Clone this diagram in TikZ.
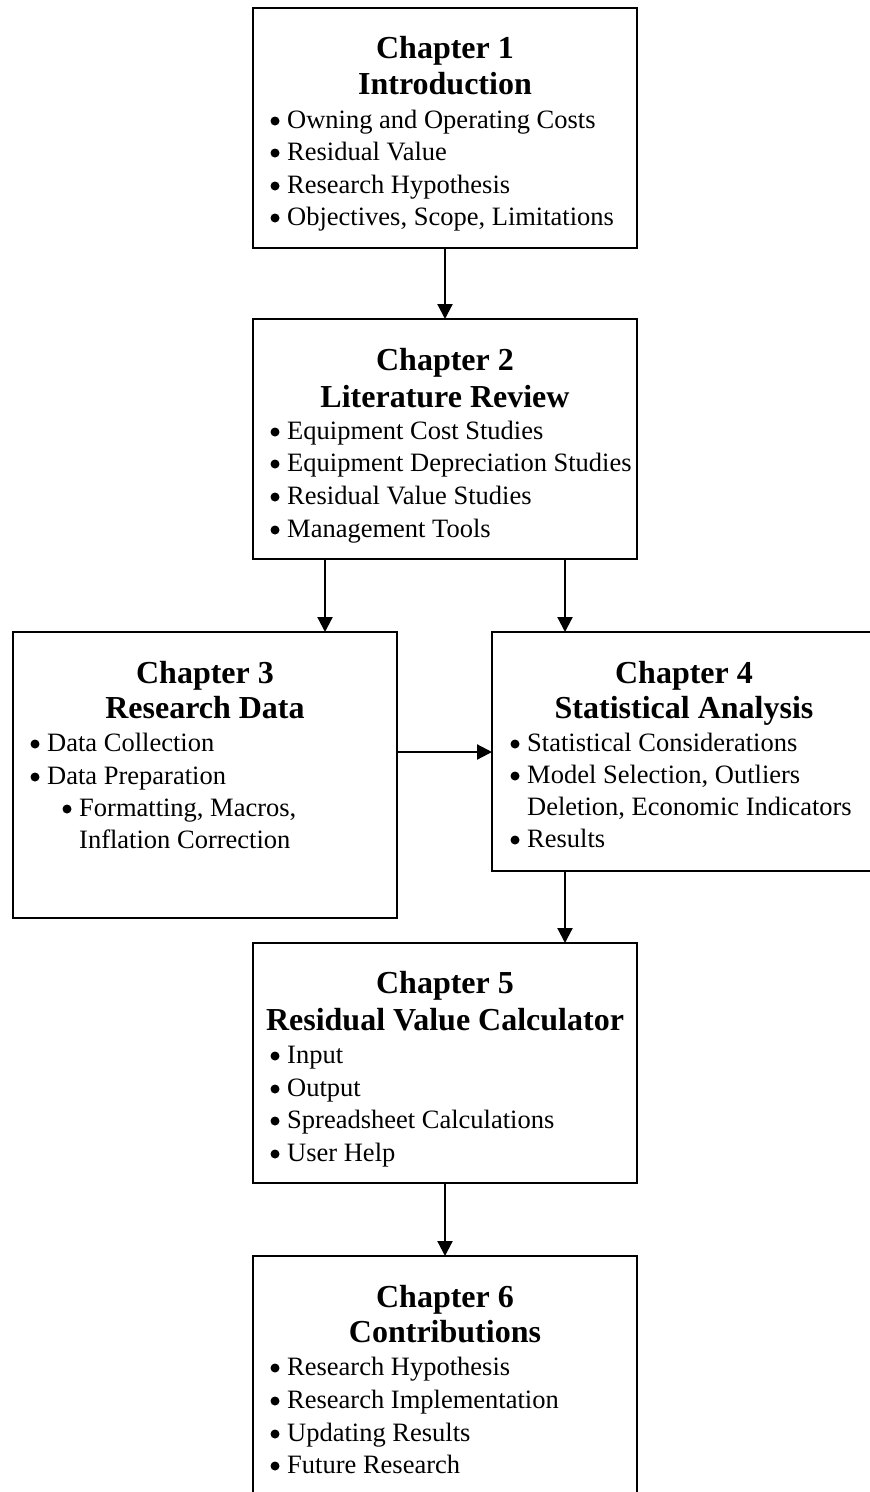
\documentclass[tikz,border=0pt]{standalone}
\usepackage{fontspec}
\setmainfont{Liberation Serif}
\usetikzlibrary{arrows.meta}

% one bulleted line: name, x of text, baseline y, text
\newcommand\chapitem[4]{%
  \fill ({#2-12},{#3-7}) circle (4.5pt);
  \node[itemtext, anchor=base west] (#1) at (#2,#3) {#4};
}

\begin{document}
\begin{tikzpicture}[x=1pt, y=-1pt,
  chapbox/.style={draw, line width=2.6pt, rectangle, inner sep=0pt, outer sep=0pt,
                  anchor=north west, minimum width=384pt},
  title/.style={font=\fontsize{32}{36}\selectfont\bfseries, inner sep=0pt, anchor=base},
  itemtext/.style={font=\fontsize{26.5}{32}\selectfont, inner sep=0pt},
  flow/.style={line width=2.2pt, -{Triangle[length=15pt, width=15pt]}}
]
\useasboundingbox (0,0) rectangle (870,1492);
\fill[white] (0,0) rectangle (870,1492);
\clip (0,0) rectangle (870,1492);

% chapter boxes
\node[chapbox, minimum height=240pt] (c1) at (253,8) {};
\node[chapbox, minimum height=240pt] (c2) at (253,319) {};
\node[chapbox, minimum height=286pt] (c3) at (13,632) {};
\node[chapbox, minimum height=239pt] (c4) at (492,632) {};
\node[chapbox, minimum height=240pt] (c5) at (253,943) {};
\node[chapbox, minimum height=262pt] (c6) at (253,1256) {};

% Chapter 1
\node[title] (t1a) at (445,58) {Chapter 1};
\node[title] (t1b) at (445,94) {Introduction};
\chapitem{i1a}{287}{128}{Owning and Operating Costs}
\chapitem{i1b}{287}{160}{Residual Value}
\chapitem{i1c}{287}{193}{Research Hypothesis}
\chapitem{i1d}{287}{225}{Objectives, Scope, Limitations}

% Chapter 2
\node[title] (t2a) at (445,370) {Chapter 2};
\node[title] (t2b) at (445,407) {Literature Review};
\chapitem{i2a}{287}{439}{Equipment Cost Studies}
\chapitem{i2b}{287}{471}{Equipment Depreciation Studies}
\chapitem{i2c}{287}{504}{Residual Value Studies}
\chapitem{i2d}{287}{537}{Management Tools}

% Chapter 3
\node[title] (t3a) at (205,683) {Chapter 3};
\node[title] (t3b) at (205,718) {Research Data};
\chapitem{i3a}{47}{751}{Data Collection}
\chapitem{i3b}{47}{784}{Data Preparation}
\chapitem{i3c}{79}{816}{Formatting, Macros,}
\node[itemtext, anchor=base west] (i3d) at (79,848) {Inflation Correction};

% Chapter 4
\node[title] (t4a) at (684,683) {Chapter 4};
\node[title] (t4b) at (684,718) {Statistical Analysis};
\chapitem{i4a}{527}{751}{Statistical Considerations}
\chapitem{i4b}{527}{783}{Model Selection, Outliers}
\node[itemtext, anchor=base west] (i4c) at (527,815) {Deletion, Economic Indicators};
\chapitem{i4d}{527}{847}{Results}

% Chapter 5
\node[title] (t5a) at (445,993) {Chapter 5};
\node[title] (t5b) at (445,1030) {Residual Value Calculator};
\chapitem{i5a}{287}{1063}{Input}
\chapitem{i5b}{287}{1096}{Output}
\chapitem{i5c}{287}{1128}{Spreadsheet Calculations}
\chapitem{i5d}{287}{1161}{User Help}

% Chapter 6
\node[title] (t6a) at (445,1307) {Chapter 6};
\node[title] (t6b) at (445,1342) {Contributions};
\chapitem{i6a}{287}{1375}{Research Hypothesis}
\chapitem{i6b}{287}{1408}{Research Implementation}
\chapitem{i6c}{287}{1441}{Updating Results}
\chapitem{i6d}{287}{1473}{Future Research}

% connector columns and row
\coordinate (left23) at (325,0);
\coordinate (right24) at (565,0);
\coordinate (row34) at (0,752);

\draw[flow] (c1.south) -- (c2.north);
\draw[flow] (c2.south -| left23) -- (c3.north -| left23);
\draw[flow] (c2.south -| right24) -- (c4.north -| right24);
\draw[flow] (c3.east |- row34) -- (c4.west |- row34);
\draw[flow] (c4.south -| right24) -- (c5.north -| right24);
\draw[flow] (c5.south) -- (c6.north);
\end{tikzpicture}
\end{document}
